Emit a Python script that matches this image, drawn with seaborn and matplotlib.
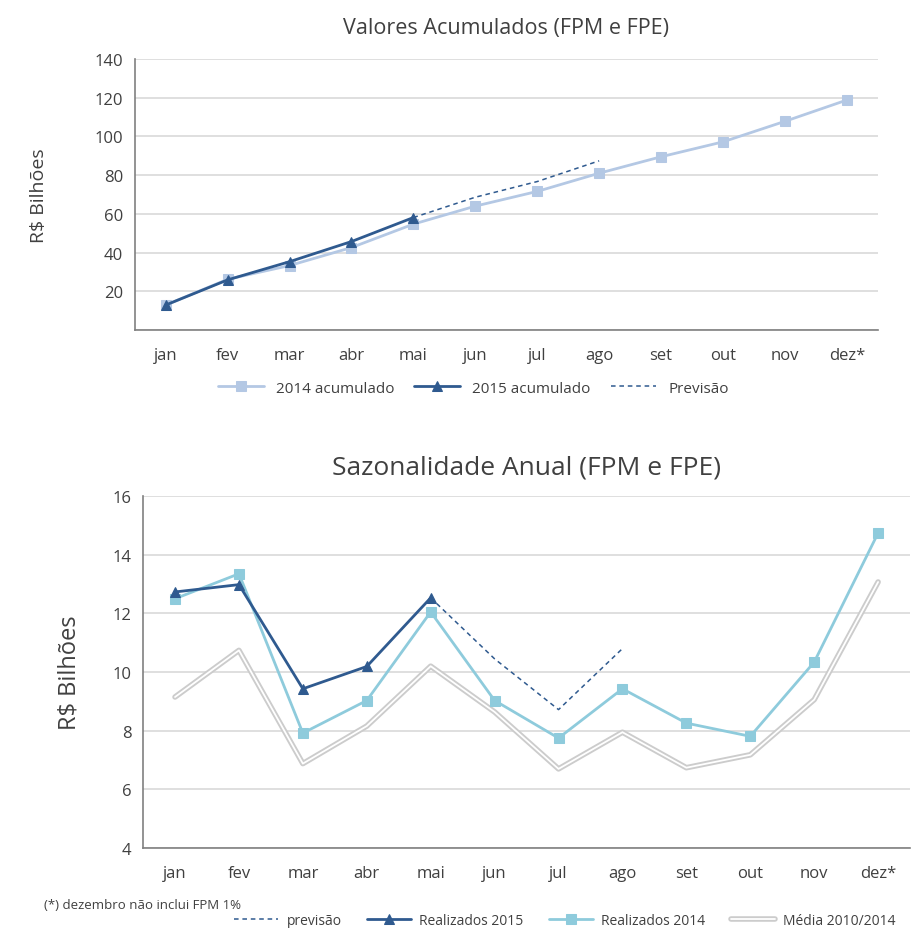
import numpy as np
import matplotlib.pyplot as plt
import matplotlib.patheffects as pe
import seaborn as sns

# dados
meses = ["jan", "fev", "mar", "abr", "mai", "jun", "jul", "ago", "set", "out", "nov", "dez*"]

acum_2014 = [12.9, 26.2, 33.3, 42.6, 54.7, 64.0, 71.6, 81.0, 89.5, 97.2, 107.8, 118.8]
acum_2015 = [12.9, 25.9, 35.3, 45.7, 58.1]
acum_prev = [58.1, 68.6, 76.7, 87.4]  # mai..ago

real_2014 = [12.5, 13.35, 7.92, 9.03, 12.05, 9.03, 7.75, 9.43, 8.26, 7.81, 10.34, 14.74]
real_2015 = [12.73, 12.98, 9.43, 10.19, 12.53]
sazon_prev = [12.53, 10.45, 8.72, 10.8]  # mai..ago
media_10_14 = [9.15, 10.74, 6.88, 8.16, 10.2, 8.64, 6.7, 7.95, 6.74, 7.18, 9.06, 13.07]

sns.set_style("white")
plt.rcParams["font.family"] = ["Open Sans", "DejaVu Sans"]

txt = "#404040"
grade = "#d9d9d9"
azul_esc = "#2f5a8f"
azul_claro = "#b4c8e4"
azul_2014 = "#8ecbdc"

fig = plt.figure(figsize=(9.23, 9.29), dpi=100)
ax1 = fig.add_axes([0.146, 0.6437, 0.805, 0.2917])
ax2 = fig.add_axes([0.155, 0.086, 0.831, 0.379])

x_all = np.arange(12)

# ---- gráfico de cima: valores acumulados
sns.lineplot(x=x_all, y=acum_2014, color=azul_claro, lw=2, marker="s", markersize=7,
             markeredgecolor=azul_claro, label="2014 acumulado", ax=ax1)
sns.lineplot(x=x_all[:5], y=acum_2015, color=azul_esc, lw=2, marker="^", markersize=7,
             markeredgecolor=azul_esc, label="2015 acumulado", ax=ax1)
sns.lineplot(x=x_all[4:8], y=acum_prev, color=azul_esc, lw=1.1, linestyle=(0, (3, 2.5)),
             label="Previsão", ax=ax1)

ax1.set_ylim(0, 140)
ax1.set_yticks(np.arange(0, 141, 20))
ax1.set_yticklabels([""] + [str(v) for v in range(20, 141, 20)])
ax1.set_ylabel("R$ Bilhões", fontsize=14, color=txt, labelpad=33)
ax1.set_title("Valores Acumulados (FPM e FPE)", fontsize=15.5, color=txt, pad=19)
ax1.legend(loc="center", bbox_to_anchor=(0.456, -0.215), ncol=3, frameon=False,
           fontsize=11, labelcolor=txt, handlelength=3.0, columnspacing=1.3)

# ---- gráfico de baixo: sazonalidade anual
sns.lineplot(x=x_all, y=media_10_14, color="white", lw=1.3, label="Média 2010/2014", ax=ax2,
             path_effects=[pe.Stroke(linewidth=4, foreground="#cccccc"), pe.Normal()])
sns.lineplot(x=x_all, y=real_2014, color=azul_2014, lw=2, marker="s", markersize=7,
             markeredgecolor=azul_2014, label="Realizados 2014", ax=ax2)
sns.lineplot(x=x_all[4:8], y=sazon_prev, color=azul_esc, lw=1.1, linestyle=(0, (3, 2.5)),
             label="previsão", ax=ax2)
sns.lineplot(x=x_all[:5], y=real_2015, color=azul_esc, lw=2, marker="^", markersize=7,
             markeredgecolor=azul_esc, label="Realizados 2015", ax=ax2)

ax2.set_ylim(4, 16)
ax2.set_yticks(np.arange(4, 17, 2))
ax2.set_ylabel("R$ Bilhões", fontsize=17, color=txt, labelpad=22)
ax2.set_title("Sazonalidade Anual (FPM e FPE)", fontsize=19, color=txt, pad=16)
h, l = ax2.get_legend_handles_labels()
ordem = [2, 3, 1, 0]
ax2.legend().remove()
fig.legend([h[i] for i in ordem], [l[i] for i in ordem], loc="center",
           bbox_to_anchor=(0.612, 0.0086), ncol=4, frameon=False, fontsize=10,
           labelcolor=txt, handlelength=3.2, handletextpad=0.6, columnspacing=1.8)
fig.text(0.048, 0.022, "(*) dezembro não inclui FPM 1%", fontsize=9.5, color=txt)

for ax in (ax1, ax2):
    ax.set_xlim(-0.5, 11.5)
    ax.set_xticks(x_all)
    ax.set_xticklabels(meses)
    ax.set_xticks(np.arange(-0.5, 12, 1), minor=True)
    ax.tick_params(axis="x", which="major", length=0, pad=12, labelsize=12, labelcolor=txt)
    ax.tick_params(axis="x", which="minor", length=6, color="#808080", width=1)
    ax.tick_params(axis="y", length=5, color="#808080", labelsize=12, labelcolor=txt)
    ax.grid(axis="y", color=grade, lw=1.2)
    ax.set_axisbelow(True)
    sns.despine(ax=ax)
    ax.spines["left"].set_color("#808080")
    ax.spines["bottom"].set_color("#808080")
    ax.spines["left"].set_linewidth(1.2)
    ax.spines["bottom"].set_linewidth(1.2)
    ax.set_xlabel("")

fig.savefig("out.png", dpi=100)
